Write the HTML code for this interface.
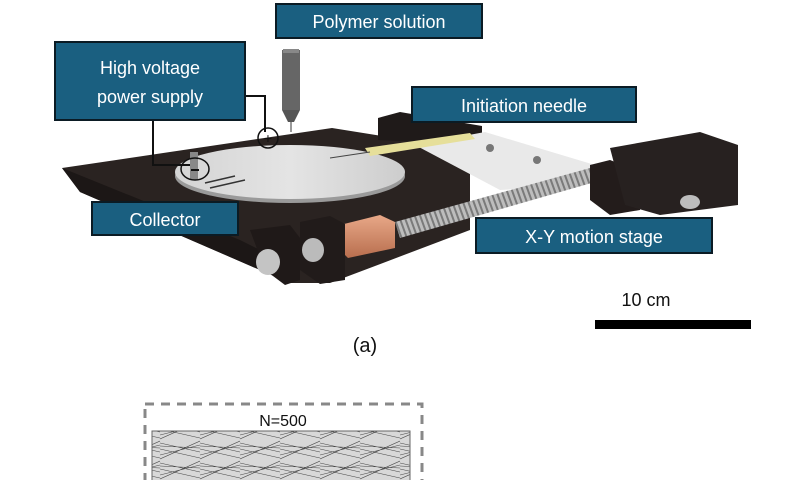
<!DOCTYPE html>
<html><head><meta charset="utf-8"><style>
html,body{margin:0;padding:0;background:#fff;}
svg{display:block}
text{font-family:"Liberation Sans",sans-serif;}
</style></head><body>
<svg width="800" height="480" viewBox="0 0 800 480" xmlns="http://www.w3.org/2000/svg">
<defs>
<linearGradient id="disc" x1="0" y1="0" x2="1" y2="0"><stop offset="0" stop-color="#d4d4d4"/><stop offset="0.5" stop-color="#e4e4e4"/><stop offset="1" stop-color="#cdcdcd"/></linearGradient>
<linearGradient id="cu" x1="0" y1="0" x2="0" y2="1"><stop offset="0" stop-color="#e8a888"/><stop offset="1" stop-color="#b86e4e"/></linearGradient>
<pattern id="screw" width="5" height="10" patternUnits="userSpaceOnUse" patternTransform="rotate(-20)"><rect width="5" height="10" fill="#bdbdbd"/><rect width="2" height="10" fill="#7a7a7a"/></pattern>
<pattern id="fib" width="40" height="20" patternUnits="userSpaceOnUse"><rect width="40" height="20" fill="#d8d8d8"/><path d="M0 3 L40 12 M0 15 L40 5 M0 9 L40 18 M0 19 L40 1 M0 6 L40 8" stroke="#444" stroke-width="0.6"/></pattern>
</defs>
<polygon points="62,168 332,128 470,150 470,230 330,283 290,283 80,192" fill="#2a2321"/>
<polygon points="62,168 80,192 290,283 300,270 240,240" fill="#1c1716"/>
<polygon points="378,118 400,112 482,126 482,145 378,140" fill="#1f1a19"/>
<polygon points="415,145 485,132 595,165 585,185 500,190" fill="#e9e9e9"/>
<circle cx="490" cy="148" r="4" fill="#777"/><circle cx="537" cy="160" r="4" fill="#777"/>
<ellipse cx="290" cy="176" rx="115" ry="27" fill="#9a9a9a"/>
<ellipse cx="290" cy="172" rx="115" ry="27" fill="url(#disc)"/>
<line x1="205" y1="183" x2="235" y2="176" stroke="#333" stroke-width="1.5"/>
<line x1="210" y1="188" x2="245" y2="180" stroke="#333" stroke-width="1.5"/>
<rect x="190" y="152" width="8" height="28" fill="#888"/>
<polygon points="365,148 470,133 475,139 370,156" fill="#e6df9a"/>
<line x1="330" y1="158" x2="370" y2="152" stroke="#444" stroke-width="1"/>
<polygon points="395,222 590,168 595,182 400,238" fill="url(#screw)"/>
<polygon points="340,225 380,215 395,222 395,248 348,258 340,250" fill="url(#cu)"/>
<polygon points="300,222 330,216 345,224 345,280 320,284 300,270" fill="#211b1a"/>
<polygon points="250,230 290,225 300,238 300,280 285,285 265,270" fill="#1f1918"/>
<ellipse cx="268" cy="262" rx="12" ry="13" fill="#c4c4c4"/>
<ellipse cx="313" cy="250" rx="11" ry="12" fill="#bbbbbb"/>
<polygon points="590,165 610,160 640,172 640,210 610,215 590,200" fill="#231c1b"/>
<polygon points="610,148 700,132 738,145 738,205 660,215 625,205" fill="#272120"/>
<ellipse cx="690" cy="202" rx="10" ry="7" fill="#bdbdbd"/>
<rect x="282" y="50" width="18" height="60" fill="#666"/>
<rect x="283" y="49" width="16" height="4" fill="#888"/>
<polygon points="282,110 300,110 294,122 288,122" fill="#555"/>
<line x1="291" y1="122" x2="291" y2="132" stroke="#777" stroke-width="1.5"/>
<polyline points="237,96 265,96 265,132" fill="none" stroke="#111" stroke-width="2"/>
<polyline points="153,120 153,165 190,165" fill="none" stroke="#111" stroke-width="2"/>
<circle cx="268" cy="138" r="10" fill="none" stroke="#111" stroke-width="1.5"/>
<text x="268" y="143" font-size="14" text-anchor="middle" fill="#111">+</text>
<ellipse cx="195" cy="169" rx="14" ry="11" fill="none" stroke="#111" stroke-width="1.5"/>
<line x1="191" y1="170" x2="199" y2="170" stroke="#111" stroke-width="2"/>
<g fill="#1a5f80" stroke="#0b1b24" stroke-width="2">
<rect x="276" y="4" width="206" height="34"/>
<rect x="55" y="42" width="190" height="78"/>
<rect x="412" y="87" width="224" height="35"/>
<rect x="92" y="202" width="146" height="33"/>
<rect x="476" y="218" width="236" height="35"/>
</g>
<g fill="#fff" font-size="18" text-anchor="middle">
<text x="379" y="28">Polymer solution</text>
<text x="150" y="74">High voltage</text>
<text x="150" y="103">power supply</text>
<text x="524" y="112">Initiation needle</text>
<text x="165" y="226">Collector</text>
<text x="594" y="243">X-Y motion stage</text>
</g>
<text x="646" y="306" font-size="18" text-anchor="middle" fill="#111">10 cm</text>
<rect x="595" y="320" width="156" height="9" fill="#000"/>
<text x="365" y="352" font-size="20" text-anchor="middle" fill="#111">(a)</text>
<rect x="145" y="404" width="277" height="90" fill="none" stroke="#888" stroke-width="3" stroke-dasharray="9,7"/>
<text x="283" y="426" font-size="16" text-anchor="middle" fill="#111">N=500</text>
<rect x="152" y="431" width="258" height="60" fill="url(#fib)" stroke="#666" stroke-width="1"/>
</svg>
</body></html>
